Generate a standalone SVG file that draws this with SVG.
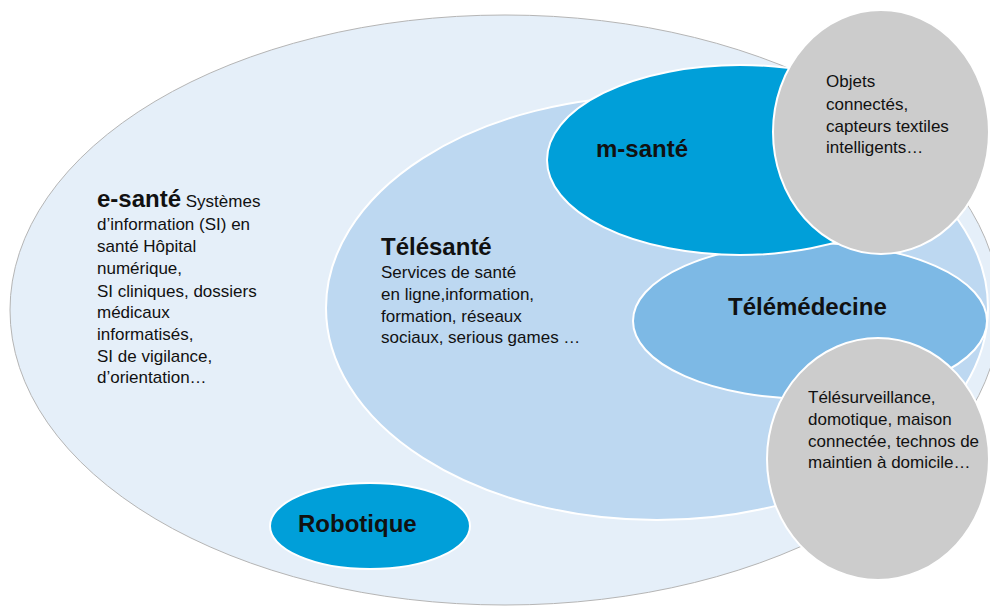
<svg xmlns="http://www.w3.org/2000/svg" width="990" height="607" viewBox="0 0 990 607">
<style>
text{font-family:"Liberation Sans",Arial,sans-serif;fill:#111}
.t{font-size:17px}
.b{font-size:24px;font-weight:bold}
.w{stroke:#fff;stroke-width:2}
</style>
<rect width="990" height="607" fill="#fff"/>
<g id="esante">
<ellipse cx="505" cy="310" rx="495" ry="295" fill="#E5EFF9" stroke="#b5b5b5" stroke-width="1"/>
<text x="97" y="207"><tspan class="b">e-santé</tspan><tspan class="t"> Systèmes</tspan></text>
<text class="t" x="97" y="230">d’information (SI) en</text>
<text class="t" x="97" y="252">santé Hôpital</text>
<text class="t" x="97" y="274">numérique,</text>
<text class="t" x="97" y="297">SI cliniques, dossiers</text>
<text class="t" x="97" y="318">médicaux</text>
<text class="t" x="97" y="340">informatisés,</text>
<text class="t" x="97" y="362">SI de vigilance,</text>
<text class="t" x="97" y="383">d’orientation…</text>
</g>
<g id="telesante">
<ellipse cx="657" cy="308" rx="331" ry="212" fill="#BDD8F1" class="w"/>
<text class="b" x="381" y="255">Télésanté</text>
<text class="t" x="381" y="278">Services de santé</text>
<text class="t" x="381" y="300">en ligne,information,</text>
<text class="t" x="381" y="322">formation, réseaux</text>
<text class="t" x="381" y="343">sociaux, serious games …</text>
</g>
<g id="robotique">
<ellipse cx="370" cy="526" rx="100" ry="43" fill="#009FD9" class="w"/>
<text class="b" x="298" y="532">Robotique</text>
</g>
<g id="telemedecine">
<ellipse cx="810" cy="321" rx="177" ry="78" fill="#7DB9E5" class="w"/>
<text class="b" x="728" y="315">Télémédecine</text>
</g>
<g id="msante">
<ellipse cx="740" cy="160" rx="193" ry="95" fill="#009FD9" class="w"/>
<text class="b" x="596" y="157">m-santé</text>
</g>
<g id="objets">
<ellipse cx="881" cy="132" rx="108" ry="122" fill="#CCCCCC" class="w"/>
<text class="t" x="826" y="87">Objets</text>
<text class="t" x="826" y="110">connectés,</text>
<text class="t" x="826" y="132">capteurs textiles</text>
<text class="t" x="826" y="153">intelligents…</text>
</g>
<g id="telesurveillance">
<ellipse cx="878" cy="459" rx="111" ry="121" fill="#CCCCCC" class="w"/>
<text class="t" x="808" y="403">Télésurveillance,</text>
<text class="t" x="808" y="425">domotique, maison</text>
<text class="t" x="808" y="447">connectée, technos de</text>
<text class="t" x="808" y="468">maintien à domicile…</text>
</g>
<g id="connectors"/>
</svg>
